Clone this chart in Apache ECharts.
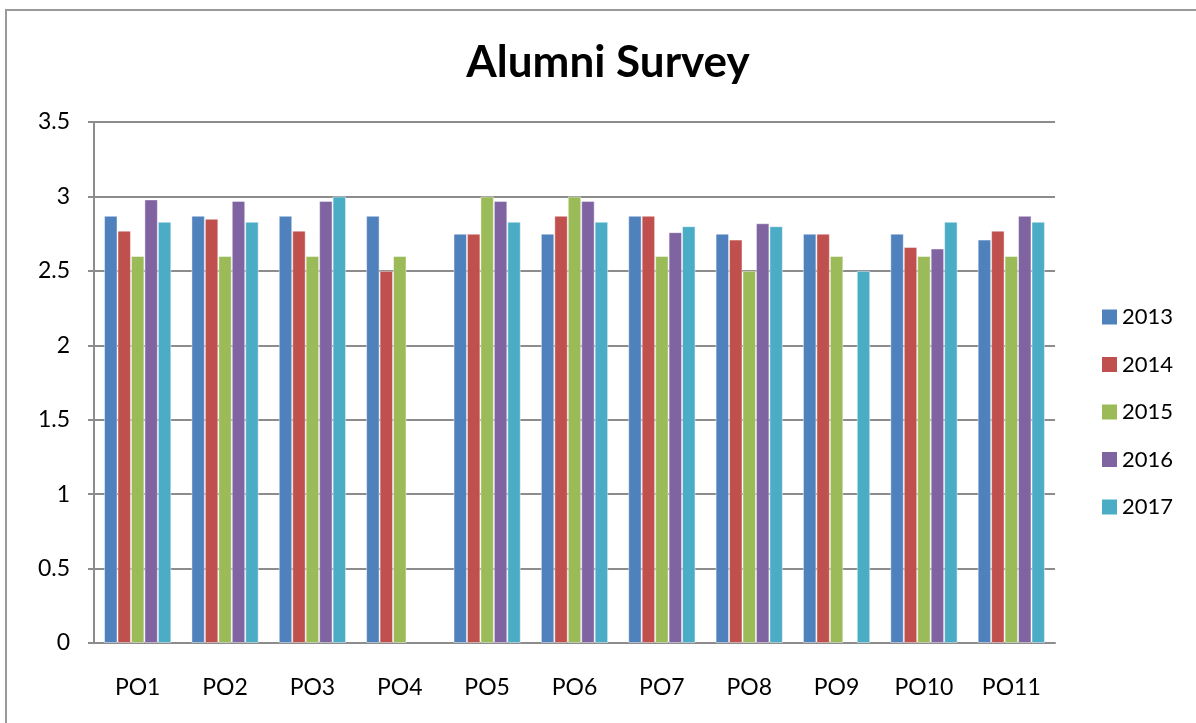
<!DOCTYPE html>
<html>
<head>
<meta charset="utf-8">
<script src="https://cdn.jsdelivr.net/npm/echarts@6/dist/echarts.min.js"></script>
<style>
  html, body { margin: 0; padding: 0; background: #fff; }
  #frame { position: absolute; left: 5px; top: 9px; width: 1300px; height: 800px;
           border-left: 2px solid #9a9a9a; border-top: 2px solid #9a9a9a; }
  #chart { position: absolute; left: 0; top: 0; width: 1196px; height: 723px; }
</style>
</head>
<body>
<div id="frame"></div>
<div id="chart"></div>
<script>
// values
var categories = ['PO1', 'PO2', 'PO3', 'PO4', 'PO5', 'PO6', 'PO7', 'PO8', 'PO9', 'PO10', 'PO11'];
var years = ['2013', '2014', '2015', '2016', '2017'];
var v2013 = [2.87, 2.87, 2.87, 2.87, 2.75, 2.75, 2.87, 2.75, 2.75, 2.75, 2.71];
var v2014 = [2.77, 2.85, 2.77, 2.5, 2.75, 2.87, 2.87, 2.71, 2.75, 2.66, 2.77];
var v2015 = [2.6, 2.6, 2.6, 2.6, 3.0, 3.0, 2.6, 2.5, 2.6, 2.6, 2.6];
var v2016 = [2.98, 2.97, 2.97, null, 2.97, 2.97, 2.76, 2.82, null, 2.65, 2.87];
var v2017 = [2.83, 2.83, 3.0, null, 2.83, 2.83, 2.8, 2.8, 2.5, 2.83, 2.83];
var colors = ['#4f81bd', '#c0504d', '#9bbb59', '#8064a2', '#4bacc6'];

var font = 'Lato, "Open Sans", sans-serif';
var allValues = [v2013, v2014, v2015, v2016, v2017];

var chart = echarts.init(document.getElementById('chart'));

chart.setOption({
    animation: false,
    color: colors,
    textStyle: { fontFamily: font },
    title: {
        text: 'Alumni Survey',
        left: 603,
        textAlign: 'center',
        top: 36,
        textStyle: { fontSize: 44, fontWeight: 'bold', color: '#000', fontFamily: font }
    },
    legend: {
        orient: 'vertical',
        left: 1097,
        top: 301,
        itemWidth: 15,
        itemHeight: 15,
        itemGap: 25.5,
        icon: 'rect',
        itemStyle: { borderWidth: 0 },
        textStyle: { fontSize: 22, color: '#000', fontFamily: font, padding: [0, 0, 0, 0] },
        data: years
    },
    grid: { left: 94, top: 122, right: 141, bottom: 80 },
    xAxis: {
        type: 'category',
        data: categories,
        axisLine: { lineStyle: { color: '#8c8c8c', width: 2 } },
        axisTick: { show: false },
        axisLabel: { fontSize: 23, color: '#000', margin: 33, fontFamily: font }
    },
    yAxis: {
        type: 'value',
        min: 0,
        max: 3.5,
        interval: 0.5,
        axisLine: { show: true, lineStyle: { color: '#8c8c8c', width: 2 } },
        axisTick: { show: true, length: 6, lineStyle: { color: '#8c8c8c', width: 2 } },
        splitLine: { lineStyle: { color: '#8c8c8c', width: 2 } },
        axisLabel: { fontSize: 23, color: '#000', margin: 24, fontFamily: font }
    },
    series: years.map(function (y, i) {
        return {
            name: y,
            type: 'bar',
            data: allValues[i],
            barGap: '0%',
            barCategoryGap: '23%',
            itemStyle: { borderColor: 'rgba(255,255,255,0.45)', borderWidth: 1 }
        };
    })
});
</script>
</body>
</html>
